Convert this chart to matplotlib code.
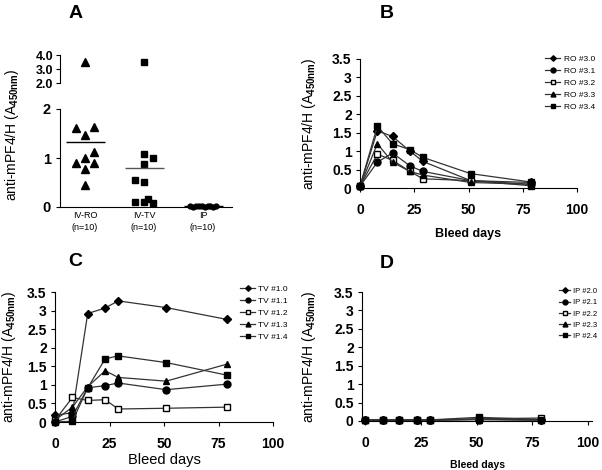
import numpy as np
import matplotlib
matplotlib.use("Agg")
import matplotlib.pyplot as plt

plt.rcParams['font.family'] = ['Liberation Sans', 'DejaVu Sans']
plt.rcParams['mathtext.fontset'] = 'custom'
plt.rcParams['mathtext.rm'] = 'Liberation Sans'
plt.rcParams['mathtext.bf'] = 'Liberation Sans:bold'

# --- panel A : end-point titres per group ---
groups = ['IV-RO\n(n=10)', 'IV-TV\n(n=10)', 'IP\n(n=10)']
iv_ro = [3.5, 1.62, 1.63, 1.46, 1.13, 0.99, 0.89, 0.90, 0.77, 0.45]
iv_tv = [3.5, 1.08, 1.00, 0.88, 0.55, 0.52, 0.10, 0.10, 0.16, 0.08]
ip = [0.02, 0.01, 0.02, 0.03, 0.02, 0.01, 0.03, 0.02, 0.01, 0.02]

# --- panels B-D : time courses ---
days = [0, 8, 15, 23, 29, 51, 79]

ro_names = ['RO #3.0', 'RO #3.1', 'RO #3.2', 'RO #3.3', 'RO #3.4']
ro_vals = [
    [0.05, 1.55, 1.40, 1.00, 0.72, 0.20, 0.15],
    [0.05, 0.70, 0.95, 0.60, 0.45, 0.20, 0.10],
    [0.05, 0.92, 0.75, 0.45, 0.25, 0.20, 0.06],
    [0.05, 1.20, 0.70, 0.45, 0.35, 0.15, 0.10],
    [0.05, 1.68, 1.20, 1.04, 0.83, 0.39, 0.16],
]

tv_names = ['TV #1.0', 'TV #1.1', 'TV #1.2', 'TV #1.3', 'TV #1.4']
tv_vals = [
    [0.18, 0.25, 2.92, 3.07, 3.26, 3.08, 2.76],
    [0.00, 0.15, 0.92, 0.98, 1.05, 0.87, 1.02],
    [0.05, 0.66, 0.58, 0.60, 0.35, 0.37, 0.40],
    [0.05, 0.40, 0.95, 1.38, 1.20, 1.10, 1.56],
    [0.00, 0.02, 0.92, 1.70, 1.78, 1.60, 1.26],
]

ip_names = ['IP #2.0', 'IP #2.1', 'IP #2.2', 'IP #2.3', 'IP #2.4']
ip_vals = [
    [0.03, 0.03, 0.03, 0.03, 0.03, 0.05, 0.03],
    [0.02, 0.02, 0.02, 0.02, 0.02, 0.04, 0.03],
    [0.03, 0.03, 0.03, 0.03, 0.03, 0.06, 0.08],
    [0.02, 0.02, 0.02, 0.02, 0.02, 0.04, 0.02],
    [0.03, 0.03, 0.03, 0.03, 0.03, 0.10, 0.04],
]

# marker styles for the 5 animals of each group
styles = [('D', 'k'), ('o', 'k'), ('s', 'w'), ('^', 'k'), ('s', 'k')]

ylab = 'anti-mPF4/H (A$_{\\mathbf{450nm}}$)'

fig = plt.figure(figsize=(6.02, 4.70), dpi=100)


def W(px):
    return px / 602.0


def H(px):
    return px / 470.0


# ---------------- panel A (broken y axis) ----------------
axA = fig.add_axes([W(60), 1 - H(207), W(172), H(98)])
axAu = fig.add_axes([W(60), 1 - H(83), W(172), H(28)])

# horizontal spread of points inside each column (layout only)
ro_dx = np.array([0, -1, 1, 0, 1, 0, -1, 1, 0, 0])
tv_dx = np.array([0, 0, 1, 0, -1, 0, -1, 0, 0.5, 1])
ip_dx = np.linspace(-1.5, 1.5, len(ip))
step = 0.15

cols = [(1, iv_ro, ro_dx, '^', 5.5), (2, iv_tv, tv_dx, 's', 5), (3, ip, ip_dx, 'o', 3.5)]
for xc, vals, dx, m, ms in cols:
    v = np.array(vals)
    lo = v <= 2
    axA.plot(xc + step * dx[lo], v[lo], m, color='k', ms=ms, clip_on=False)
    axAu.plot(xc + step * dx[~lo], v[~lo], m, color='k', ms=ms, clip_on=False)

for ax in (axA, axAu):
    ax.set_xlim(0.576, 3.49)

axA.hlines(np.mean(iv_ro), 1 - 0.33, 1 + 0.33, color='k', lw=1)
axA.hlines(np.mean(iv_tv), 2 - 0.33, 2 + 0.33, color='#555555', lw=1)
axA.hlines(np.mean(ip), 3 - 0.33, 3 + 0.33, color='k', lw=1)

axA.set_ylim(0, 2)
axA.set_yticks([0, 1, 2])
axA.set_xticks([1, 2, 3])
axA.set_xticklabels(groups, fontsize=6.5, linespacing=1.45)
axA.tick_params(axis='x', length=0, pad=3)
axA.tick_params(axis='y', labelsize=10.5, length=3)
for t in axA.get_yticklabels():
    t.set_fontweight('bold')
axA.spines['top'].set_visible(False)
axA.spines['right'].set_visible(False)
axA.patch.set_alpha(0)

axAu.set_ylim(2, 4)
axAu.set_yticks([2, 3, 4])
axAu.set_yticklabels(['2.0', '3.0', '4.0'], fontweight='bold')
axAu.tick_params(axis='y', labelsize=9, length=3, pad=2)
axAu.set_xticks([])
for s in ('top', 'right', 'bottom'):
    axAu.spines[s].set_visible(False)
axAu.patch.set_alpha(0)

fig.text(W(12), 1 - H(135), ylab, rotation=90, ha='center', va='center', fontsize=10)
fig.text(W(76), 1 - H(14), 'A', fontsize=14, fontweight='bold', ha='center', va='center')


# ---------------- time course panels ----------------
def course(rect, names, vals, letter, letter_xy, xlab_kw, xlab_y, ylab_x, leg_xy, xlim,
           leg_fs=6, leg_hl=1.8):
    ax = fig.add_axes(rect)
    for name, v, (m, fc) in zip(names, vals, styles):
        ax.plot(days, v, marker=m, color='#333333', lw=0.9, mfc=fc, mec='k',
                ms=5 if m != 'D' else 4, label=name, clip_on=False)
    ax.set_xlim(*xlim)
    ax.set_ylim(0, 3.5)
    ax.set_xticks([0, 25, 50, 75, 100])
    ax.set_xticklabels(['0', '25', '50', '75', '100'], fontweight='bold')
    ax.set_yticks([0, 0.5, 1, 1.5, 2, 2.5, 3, 3.5])
    ax.set_yticklabels(['0', '0.5', '1', '1.5', '2', '2.5', '3', '3.5'], fontweight='bold')
    ax.tick_params(axis='x', labelsize=10, length=3, pad=8)
    ax.tick_params(axis='y', labelsize=10, length=3, pad=3)
    ax.spines['top'].set_visible(False)
    ax.spines['right'].set_visible(False)
    ax.set_ylabel(ylab, fontsize=10)
    ax.yaxis.set_label_coords(ylab_x, 0.5)
    ax.set_xlabel('Bleed days', **xlab_kw)
    ax.xaxis.set_label_coords(0.5, xlab_y)
    ax.legend(loc='upper left', bbox_to_anchor=leg_xy, bbox_transform=fig.transFigure,
              frameon=False, fontsize=leg_fs, handlelength=leg_hl, handletextpad=0.4,
              labelspacing=0.5, borderpad=0, markerscale=0.7)
    fig.text(letter_xy[0], letter_xy[1], letter, fontsize=14, fontweight='bold',
             ha='center', va='center')
    return ax


course([W(360), 1 - H(188), W(217), H(129)], ro_names, ro_vals, 'B',
       (W(387), 1 - H(13)), dict(fontsize=9, fontweight='bold'), -0.31, -0.194,
       (W(541), 1 - H(51)), (0, 100))

course([W(55), 1 - H(422), W(218), H(130)], tv_names, tv_vals, 'C',
       (W(75), 1 - H(262)), dict(fontsize=10.5), -0.235, -0.17,
       (W(236), 1 - H(281)), (0, 100))

course([W(362), 1 - H(421), W(230), H(129)], ip_names, ip_vals, 'D',
       (W(387), 1 - H(263)), dict(fontsize=7.5, fontweight='bold'), -0.30, -0.19,
       (W(555), 1 - H(284)), (-1.5, 101.8), leg_fs=5.5, leg_hl=1.5)

fig.savefig('out.png', dpi=100)
